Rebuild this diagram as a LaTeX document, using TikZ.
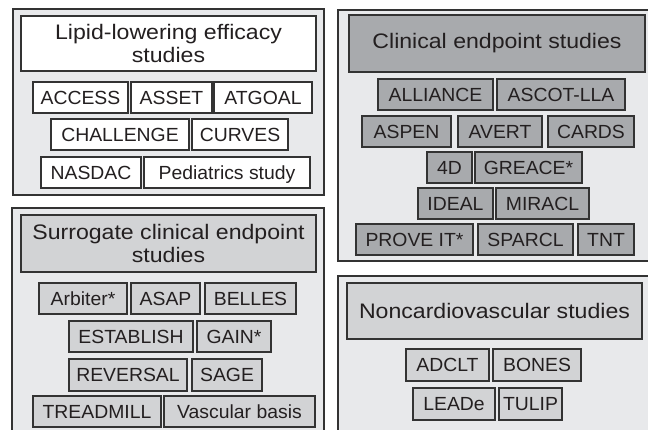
\documentclass[tikz,border=0pt]{standalone}
\usepackage{fontspec}
\setmainfont{Liberation Sans}
\newfontfamily\titlefont[FakeStretch=1.1]{Liberation Sans}
\newfontfamily\boxfont[FakeStretch=1.02]{Liberation Sans}
\definecolor{panelbg}{HTML}{E8E9EB}
\definecolor{midgray}{HTML}{A8AAAD}
\definecolor{lightgray}{HTML}{D2D3D5}
\definecolor{edge}{HTML}{333333}
\definecolor{ink}{HTML}{231F20}
\newcommand\bx[7]{\node[#6, minimum width={#4-#2}, minimum height={#5-#3}] (#1) at ({(#2+#4)/2},{(#3+#5)/2}) {#7};}
\begin{document}
\begin{tikzpicture}[x=1pt,y=-1pt,
  base/.style={draw=edge, line width=1.3pt, inner sep=0pt, outer sep=0pt, text=ink, align=center},
  panel/.style={base, fill=panelbg},
  titlew/.style={base, fill=white, font=\titlefont\fontsize{21}{23}\selectfont},
  titlem/.style={base, fill=midgray, font=\titlefont\fontsize{21}{23}\selectfont},
  titlel/.style={base, fill=lightgray, font=\titlefont\fontsize{21}{23}\selectfont},
  boxtxt/.style={font=\boxfont\fontsize{19}{19}\selectfont, text height=13.6pt, text depth=0pt},
  boxw/.style={base, boxtxt, fill=white},
  boxm/.style={base, boxtxt, fill=midgray},
  boxl/.style={base, boxtxt, fill=lightgray}]
\useasboundingbox (0,0) rectangle (648,429);
% panels
\bx{p1}{13}{9}{324}{195}{panel}{}
\bx{p2}{338}{10}{660}{261}{panel}{}
\bx{p3}{12}{208}{324}{445}{panel}{}
\bx{p4}{338}{276}{660}{445}{panel}{}
% panel 1: lipid-lowering efficacy
\bx{t1}{21}{16}{316}{71}{titlew}{Lipid-lowering efficacy\\studies}
\bx{access}{33}{82}{128}{113}{boxw}{ACCESS}
\bx{asset}{131}{82}{212}{113}{boxw}{ASSET}
\bx{atgoal}{214}{82}{312}{113}{boxw}{ATGOAL}
\bx{challenge}{51}{119}{189}{150}{boxw}{CHALLENGE}
\bx{curves}{192}{119}{288}{150}{boxw}{CURVES}
\bx{nasdac}{41}{157}{141}{188}{boxw}{NASDAC}
\bx{pediatrics}{144}{157}{310}{188}{boxw}{Pediatrics study}
% panel 2: clinical endpoint
\bx{t2}{349}{15}{645}{72}{titlem}{Clinical endpoint studies}
\bx{alliance}{378}{79}{493}{110}{boxm}{ALLIANCE}
\bx{ascot}{497}{79}{625}{110}{boxm}{ASCOT-LLA}
\bx{aspen}{362}{116}{451}{147}{boxm}{ASPEN}
\bx{avert}{458}{116}{542}{147}{boxm}{AVERT}
\bx{cards}{548}{116}{634}{147}{boxm}{CARDS}
\bx{fourd}{427}{152}{472}{183}{boxm}{4D}
\bx{greace}{475}{152}{582}{183}{boxm}{GREACE*}
\bx{ideal}{418}{188}{493}{219}{boxm}{IDEAL}
\bx{miracl}{496}{188}{589}{219}{boxm}{MIRACL}
\bx{prove}{356}{224}{473}{255}{boxm}{PROVE IT*}
\bx{sparcl}{478}{224}{573}{255}{boxm}{SPARCL}
\bx{tnt}{578}{224}{634}{255}{boxm}{TNT}
% panel 3: surrogate clinical endpoint
\bx{t3}{21}{215}{316}{272}{titlel}{Surrogate clinical endpoint\\studies}
\bx{arbiter}{39}{283}{127}{314}{boxl}{Arbiter*}
\bx{asap}{131}{283}{200}{314}{boxl}{ASAP}
\bx{belles}{205}{283}{296}{314}{boxl}{BELLES}
\bx{establish}{69}{321}{193}{352}{boxl}{ESTABLISH}
\bx{gain}{197}{321}{271}{352}{boxl}{GAIN*}
\bx{reversal}{69}{359}{187}{391}{boxl}{REVERSAL}
\bx{sage}{192}{359}{262}{391}{boxl}{SAGE}
\bx{treadmill}{33}{396}{161}{427}{boxl}{TREADMILL}
\bx{vascular}{164}{396}{315}{427}{boxl}{Vascular basis}
% panel 4: noncardiovascular
\bx{t4}{347}{283}{642}{339}{titlel}{Noncardiovascular studies}
\bx{adclt}{406}{349}{489}{381}{boxl}{ADCLT}
\bx{bones}{493}{349}{581}{381}{boxl}{BONES}
\bx{leade}{413}{388}{495}{420}{boxl}{LEADe}
\bx{tulip}{499}{388}{562}{420}{boxl}{TULIP}
\end{tikzpicture}
\end{document}
